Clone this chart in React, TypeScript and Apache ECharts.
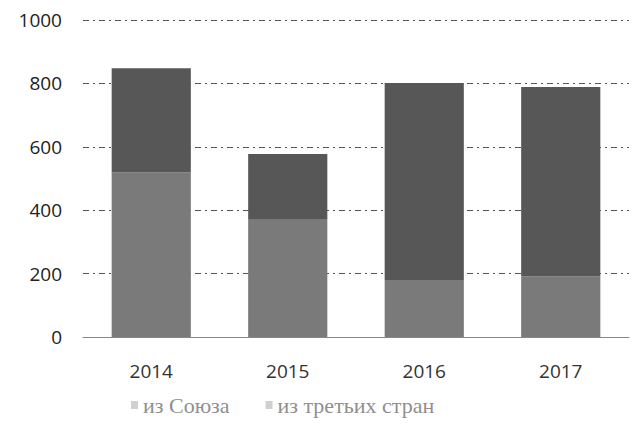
import React, { useEffect, useRef } from "react";
import * as echarts from "echarts";

const categories = ["2014", "2015", "2016", "2017"];
const seriesNames = ["из Союза", "из третьих стран"];
const unionValues = [520, 370, 180, 192];
const thirdValues = [328, 207, 621, 597];
const yTicks = [0, 200, 400, 600, 800, 1000];

const legendFont = {
  fontFamily: "Liberation Serif",
  fontSize: 22,
  color: "#8f8f8f",
};

export default function App() {
  const ref = useRef<HTMLDivElement>(null);
  useEffect(() => {
    const chart = echarts.init(ref.current!, null, { renderer: "svg" });
    chart.setOption({
      animation: false,
      backgroundColor: "#ffffff",
      textStyle: { fontFamily: "Liberation Serif" },
      grid: { left: 83, right: 10, top: 20, bottom: 87, containLabel: false },
      legend: {
        top: 394,
        left: 131,
        itemGap: 36,
        itemWidth: 7,
        itemHeight: 8,
        padding: 0,
        icon: "rect",
        textStyle: legendFont,
        data: seriesNames.map((n) => ({
          name: n,
          itemStyle: { color: "#d0d0d0" },
          textStyle: legendFont,
        })),
      },
      xAxis: {
        type: "category",
        data: categories,
        axisLine: { show: true, lineStyle: { color: "#888", width: 1 } },
        axisTick: { show: false },
        axisLabel: { margin: 24, fontFamily: "Open Sans", fontSize: 19, color: "#333" },
      },
      yAxis: {
        type: "value",
        min: yTicks[0],
        max: yTicks[yTicks.length - 1],
        interval: 200,
        axisLine: { show: false },
        axisTick: { show: false },
        axisLabel: {
          margin: 21,
          fontFamily: "Open Sans",
          fontSize: 19,
          color: "#222",
          formatter: (v: number) => String(v),
        },
        splitLine: { lineStyle: { color: "#555", width: 1.2, type: [6, 4, 2, 4] } },
      },
      series: [
        {
          name: seriesNames[0],
          type: "bar",
          stack: "total",
          data: unionValues,
          barWidth: "58%",
          itemStyle: { color: "#7a7a7a" },
        },
        {
          name: seriesNames[1],
          type: "bar",
          stack: "total",
          data: thirdValues,
          barWidth: "58%",
          itemStyle: { color: "#575757" },
        },
      ],
    });
    return () => chart.dispose();
  }, []);
  return (
    <div
      ref={ref}
      style={{ position: "fixed", left: 0, top: 0, width: 639, height: 424 }}
    />
  );
}
